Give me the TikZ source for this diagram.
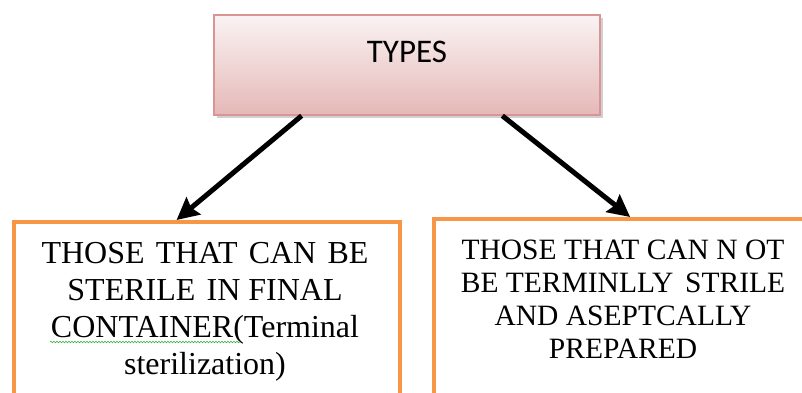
\documentclass[tikz,border=0pt]{standalone}
\usepackage{fontspec}
\setmainfont{Liberation Serif}
\newfontfamily\calib{Carlito}
\usetikzlibrary{arrows.meta,calc,decorations.pathmorphing,shadows}
\definecolor{orangeb}{HTML}{F79646}
\definecolor{pinkb}{HTML}{D99594}
\definecolor{pinktop}{HTML}{FAF3F3}
\definecolor{pinkbot}{HTML}{E5B8B7}
\definecolor{spellgreen}{HTML}{3CB043}
\tikzset{
  typesbox/.style={draw=pinkb, line width=1.5pt, top color=pinktop, bottom color=pinkbot,
    minimum width=386pt, minimum height=100pt, inner sep=0pt,
    drop shadow={shadow xshift=3pt, shadow yshift=-3pt, fill=black!30, opacity=0.6}},
  obox/.style={draw=orangeb, line width=4pt, minimum width=386pt, minimum height=200pt, inner sep=0pt},
  btext/.style={align=center, inner sep=0pt},
  conn/.style={line width=5pt, -{Stealth[length=22pt,width=22pt,inset=3pt]}}
}
\begin{document}
\begin{tikzpicture}[x=1pt,y=1pt]
\useasboundingbox (0,0) rectangle (802,392);
\clip (0,0) rectangle (802,392);
\node[typesbox] (types) at (407,327) {};
\node[font=\calib\fontsize{33}{40}\selectfont] (typestext) at (407,340) {TYPES};
\node[obox, anchor=north west] (lbox) at (12,172) {};
\node[obox, anchor=north west] (rbox) at (432,175) {};
\node[btext, anchor=north, font=\fontsize{32}{37}\selectfont] (ltext) at (205,150) {THOSE\hspace{0.1em} THAT\hspace{0.1em} CAN\hspace{0.1em} BE\\STERILE\hspace{0.1em} IN FINAL\\CONTAINER(Terminal\\sterilization)};
\node[btext, anchor=north, font=\fontsize{29.5}{33}\selectfont] (rtext) at (623,152) {THOSE THAT CAN N OT\\BE TERMINLLY\hspace{0.15em} STRILE\\AND ASEPTCALLY\\PREPARED};
\coordinate (sq1) at (50,50);
\coordinate (sq2) at (240,50);
\draw[spellgreen, line width=0.6pt, decorate, decoration={snake, amplitude=0.8pt, segment length=3pt}] (sq1) -- (sq2);
\draw[conn] ($(types.south west)!0.228!(types.south east)$) -- ($(lbox.north west)!0.422!(lbox.north east)$);
\draw[conn] ($(types.south west)!0.746!(types.south east)$) -- ($(rbox.north west)!0.508!(rbox.north east)$);
\end{tikzpicture}
\end{document}
